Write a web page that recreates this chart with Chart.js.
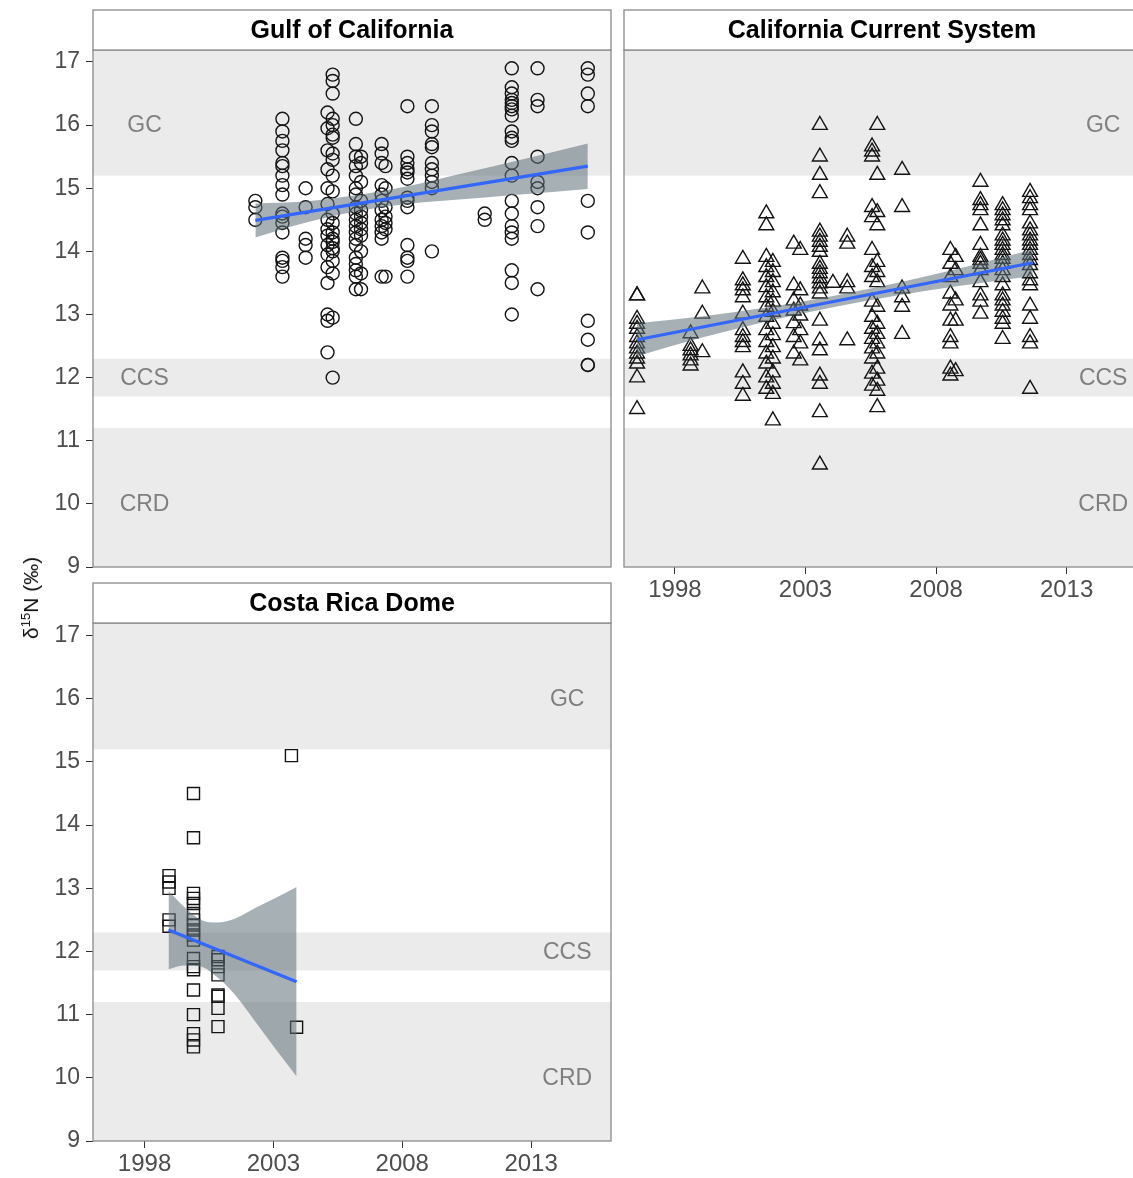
<!DOCTYPE html>
<html>
<head>
<meta charset="utf-8">
<script src="https://cdn.jsdelivr.net/npm/chart.js@4.4.1/dist/chart.umd.min.js"></script>
<style>
html,body{margin:0;padding:0;background:#fff;width:1133px;height:1178px;overflow:hidden;position:relative;}
canvas{position:absolute;left:0;top:0;}
#ylab{position:absolute;left:31px;top:598px;transform:translate(-50%,-50%) rotate(-90deg);white-space:nowrap;
  font-family:"Liberation Sans",Arial,sans-serif;font-size:21px;color:#111;}
#ylab sup{font-size:13px;vertical-align:8px;line-height:0;}
</style>
</head>
<body>
<canvas id="c1" width="1160" height="1178"></canvas>
<canvas id="c2" width="1160" height="1178"></canvas>
<canvas id="c3" width="1160" height="1178"></canvas>
<div id="ylab">δ<sup>15</sup>N (‰)</div>
<script>
// ---------- shared axis / zone data ----------
const yTicks = [9, 10, 11, 12, 13, 14, 15, 16, 17];
const xTicks = [1998, 2003, 2008, 2013];
const zoneNames = ['GC', 'CCS', 'CRD'];
const zoneLow = [15.2, 11.7, -Infinity];
const zoneHigh = [Infinity, 12.3, 11.2];
const zoneLabelY = [16, 12, 10];

// ---------- Gulf of California (circles) ----------
const gcYears = [2002.3, 2003.35, 2004.25, 2005.1, 2005.3, 2006.2, 2006.4, 2007.2, 2007.35, 2008.2, 2009.15, 2011.2, 2012.25, 2013.25, 2015.2];
const gcValues = [
  [14.8, 14.7, 14.5],
  [16.1, 15.9, 15.75, 15.6, 15.4, 15.35, 15.2, 15.05, 14.9, 14.6, 14.55, 14.45, 14.3, 13.9, 13.85, 13.75, 13.6],
  [15.0, 14.7, 14.2, 14.1, 13.9],
  [16.2, 15.95, 15.6, 15.3, 15.0, 14.75, 14.5, 14.35, 14.25, 14.1, 13.95, 13.75, 13.5, 13.0, 12.9, 12.4],
  [16.8, 16.7, 16.5, 16.1, 16.0, 15.85, 15.8, 15.55, 15.45, 15.2, 14.95, 14.6, 14.45, 14.3, 14.2, 14.15, 14.05, 14.0, 13.85, 13.65, 12.95, 12.0],
  [16.1, 15.7, 15.5, 15.35, 15.2, 15.0, 14.9, 14.7, 14.6, 14.5, 14.4, 14.3, 14.2, 14.1, 13.9, 13.8, 13.7, 13.6, 13.4],
  [15.5, 15.4, 15.1, 14.8, 14.65, 14.55, 14.45, 14.35, 14.25, 14.0, 13.65, 13.4],
  [15.7, 15.55, 15.4, 15.05, 14.9, 14.8, 14.65, 14.5, 14.4, 14.3, 14.2, 13.6],
  [15.35, 15.0, 14.7, 14.55, 14.45, 14.35, 13.6],
  [16.3, 15.5, 15.4, 15.3, 15.25, 15.15, 14.85, 14.8, 14.7, 14.1, 13.9, 13.85, 13.6],
  [16.3, 16.0, 15.9, 15.7, 15.65, 15.4, 15.3, 15.2, 15.1, 15.0, 14.0],
  [14.6, 14.5],
  [16.9, 16.6, 16.5, 16.4, 16.35, 16.3, 16.25, 16.15, 15.9, 15.8, 15.75, 15.4, 15.2, 14.8, 14.6, 14.4, 14.3, 14.2, 13.7, 13.5, 13.0],
  [16.9, 16.4, 16.3, 15.5, 15.1, 15.0, 14.7, 14.4, 13.4],
  [16.9, 16.8, 16.5, 16.3, 14.8, 14.3, 12.9, 12.6, 12.2, 12.2]
];
const gcFitX = [2002.3, 2015.2];
const gcFitY = [14.49, 15.35];
const gcBandX = [2002.3, 2004.2, 2006.2, 2008.2, 2010.2, 2012.2, 2015.2];
const gcBandLow = [14.22, 14.45, 14.63, 14.75, 14.82, 14.89, 14.99];
const gcBandHigh = [14.76, 14.79, 14.89, 15.03, 15.22, 15.41, 15.71];

// ---------- California Current System (triangles) ----------
const ccsYears = [1996.55, 1998.6, 1999.05, 2000.6, 2001.5, 2001.75, 2002.55, 2002.8, 2003.55, 2004.05, 2004.6, 2005.55, 2005.75, 2006.7, 2008.55, 2008.75, 2009.7, 2010.55, 2011.6];
const ccsValues = [
  [13.3, 13.3, 12.93, 12.85, 12.77, 12.64, 12.54, 12.46, 12.38, 12.3, 12.22, 12.0, 11.5],
  [12.7, 12.5, 12.43, 12.35, 12.27, 12.19],
  [13.41, 13.01, 12.4],
  [13.88, 13.54, 13.46, 13.38, 13.27, 13.01, 12.75, 12.64, 12.56, 12.48, 12.08, 11.9, 11.71],
  [14.6, 14.41, 13.91, 13.75, 13.59, 13.43, 13.27, 13.12, 12.96, 12.75, 12.56, 12.38, 12.22, 12.0, 11.82],
  [13.83, 13.67, 13.51, 13.35, 13.2, 13.04, 12.85, 12.67, 12.48, 12.3, 12.08, 11.9, 11.74, 11.32],
  [14.12, 13.46, 13.22, 13.06, 12.86, 12.64, 12.38],
  [14.02, 13.38, 13.14, 12.98, 12.75, 12.54, 12.27],
  [16.0, 15.5, 15.21, 14.92, 14.31, 14.23, 14.15, 14.07, 13.99, 13.8, 13.72, 13.65, 13.57, 13.49, 13.41, 13.33, 12.9, 12.59, 12.43, 12.03, 11.9, 11.45, 10.62],
  [13.5],
  [14.23, 14.12, 13.51, 13.41, 12.59],
  [15.66, 15.58, 15.5, 14.7, 14.54, 14.02, 13.75, 13.59, 13.2, 12.96, 12.77, 12.61, 12.46, 12.3, 12.06, 11.87],
  [16.0, 15.21, 14.62, 14.41, 13.83, 13.67, 13.51, 13.12, 12.85, 12.69, 12.54, 12.38, 12.14, 11.95, 11.79, 11.53],
  [15.29, 14.7, 13.41, 13.27, 13.12, 12.69],
  [14.02, 13.8, 13.59, 13.33, 13.14, 12.9, 12.64, 12.54, 12.14, 12.03],
  [13.91, 13.7, 13.22, 12.9, 12.1],
  [15.1, 14.81, 14.73, 14.65, 14.41, 14.1, 13.91, 13.86, 13.8, 13.7, 13.51, 13.3, 13.2, 13.01],
  [14.73, 14.65, 14.57, 14.49, 14.41, 14.25, 14.17, 14.1, 14.02, 13.94, 13.88, 13.8, 13.7, 13.59, 13.46, 13.3, 13.22, 13.14, 13.04, 12.93, 12.85, 12.61],
  [14.94, 14.84, 14.73, 14.65, 14.44, 14.33, 14.25, 14.17, 14.1, 14.02, 13.94, 13.86, 13.78, 13.65, 13.54, 13.46, 13.14, 12.93, 12.64, 12.54, 11.82]
];
const ccsFitX = [1996.55, 2011.7];
const ccsFitY = [12.6, 13.82];
const ccsBandX = [1996.55, 1999, 2001.5, 2004, 2006.5, 2009, 2011.7];
const ccsBandLow = [12.34, 12.63, 12.89, 13.11, 13.3, 13.46, 13.61];
const ccsBandHigh = [12.86, 12.97, 13.11, 13.29, 13.5, 13.74, 14.03];

// ---------- Costa Rica Dome (squares) ----------
const crdYears = [1998.95, 1999.9, 2000.85, 2003.7, 2003.9];
const crdValues = [
  [13.2, 13.1, 13.0, 12.5, 12.4],
  [14.5, 13.8, 12.92, 12.84, 12.76, 12.6, 12.5, 12.42, 12.34, 12.26, 12.18, 11.89, 11.76, 11.71, 11.39, 11.0, 10.7, 10.6, 10.49],
  [11.92, 11.87, 11.76, 11.63, 11.31, 11.29, 11.1, 10.81],
  [15.1],
  [10.8]
];
const crdFitX = [1998.93, 2003.9];
const crdFitY = [12.34, 11.52];
const crdBandX = [1998.93, 1999.5, 2000.2, 2000.8, 2001.5, 2002.35, 2003.1, 2003.9];
const crdBandLow = [11.72, 11.78, 11.76, 11.6, 11.32, 10.86, 10.45, 10.02];
const crdBandHigh = [12.96, 12.72, 12.5, 12.46, 12.52, 12.7, 12.85, 13.02];

// ---------- helpers ----------
const FONT = '"Liberation Sans", Arial, Helvetica, sans-serif';
function toPoints(years, values) {
  const out = [];
  years.forEach((yr, i) => values[i].forEach(v => out.push({ x: yr, y: v })));
  return out;
}
function pairs(xs, ys) { return xs.map((x, i) => ({ x: x, y: ys[i] })); }

function facetPlugin(title, labelX) {
  return {
    id: 'facet',
    beforeDatasetsDraw(chart) {
      const { ctx, chartArea: a, scales: { x, y } } = chart;
      ctx.save();
      ctx.beginPath();
      ctx.rect(a.left, a.top, a.right - a.left, a.bottom - a.top);
      ctx.clip();
      ctx.fillStyle = '#EBEBEB';
      zoneNames.forEach((n, i) => {
        const hi = Math.min(zoneHigh[i], y.max), lo = Math.max(zoneLow[i], y.min);
        const yt = y.getPixelForValue(hi), yb = y.getPixelForValue(lo);
        ctx.fillRect(a.left, yt, a.right - a.left, yb - yt);
      });
      ctx.fillStyle = '#7F7F7F';
      ctx.font = '23px ' + FONT;
      ctx.textAlign = 'center';
      ctx.textBaseline = 'middle';
      zoneNames.forEach((n, i) => {
        ctx.fillText(n, x.getPixelForValue(labelX), y.getPixelForValue(zoneLabelY[i]) + 1);
      });
      ctx.restore();
    },
    afterDraw(chart) {
      const { ctx, chartArea: a } = chart;
      ctx.save();
      ctx.strokeStyle = '#8A8A8A';
      ctx.lineWidth = 1.3;
      ctx.strokeRect(a.left, a.top, a.right - a.left, a.bottom - a.top);
      const sh = 40;
      ctx.fillStyle = '#FFFFFF';
      ctx.fillRect(a.left, a.top - sh, a.right - a.left, sh);
      ctx.strokeRect(a.left, a.top - sh, a.right - a.left, sh);
      ctx.fillStyle = '#000';
      ctx.font = 'bold 25px ' + FONT;
      ctx.textAlign = 'center';
      ctx.textBaseline = 'middle';
      ctx.fillText(title, (a.left + a.right) / 2, a.top - sh / 2 + 1);
      ctx.restore();
    }
  };
}

function makeChart(id, cfg) {
  const ctx = document.getElementById(id);
  return new Chart(ctx, {
    type: 'scatter',
    data: {
      datasets: [
        { type: 'line', data: pairs(cfg.fitX, cfg.fitY), borderColor: '#3366FF', borderWidth: 3.2,
          pointRadius: 0, fill: false, order: 0 },
        { type: 'line', data: pairs(cfg.bandX, cfg.bandLow), borderWidth: 0, borderColor: 'rgba(0,0,0,0)',
          pointRadius: 0, fill: false, cubicInterpolationMode: 'monotone', order: 1 },
        { type: 'line', data: pairs(cfg.bandX, cfg.bandHigh), borderWidth: 0, borderColor: 'rgba(0,0,0,0)',
          pointRadius: 0, fill: '-1', backgroundColor: 'rgba(95,112,120,0.55)', cubicInterpolationMode: 'monotone', order: 1 },
        { data: cfg.points, pointStyle: cfg.style, pointRadius: cfg.radius, pointBorderColor: '#141414',
          pointBorderWidth: 1.4, pointBackgroundColor: 'rgba(0,0,0,0)', order: 2 }
      ]
    },
    options: {
      responsive: false,
      animation: false,
      events: [],
      layout: { padding: cfg.padding },
      plugins: { legend: { display: false }, tooltip: { enabled: false } },
      scales: {
        x: {
          type: 'linear', min: cfg.xMin, max: cfg.xMax, display: cfg.showX,
          afterBuildTicks: s => { s.ticks = xTicks.map(v => ({ value: v })); },
          afterFit: s => { if (cfg.showX) s.height = 40; },
          grid: { display: true, drawOnChartArea: false, drawTicks: true, tickLength: 7, color: '#333' },
          border: { display: false },
          ticks: { autoSkip: false, maxRotation: 0, padding: 2, color: '#4D4D4D',
                   font: { family: FONT, size: 24 }, callback: v => String(v) }
        },
        y: {
          type: 'linear', min: cfg.yMin, max: cfg.yMax, display: cfg.showY,
          afterBuildTicks: s => { s.ticks = yTicks.map(v => ({ value: v })); },
          afterFit: s => { if (cfg.showY) s.width = 93; },
          grid: { display: true, drawOnChartArea: false, drawTicks: true, tickLength: 7, color: '#333' },
          border: { display: false },
          ticks: { autoSkip: false, padding: 6, color: '#4D4D4D',
                   font: { family: FONT, size: 23 }, callback: v => String(v) }
        }
      }
    },
    plugins: [facetPlugin(cfg.title, cfg.labelX)]
  });
}

makeChart('c1', {
  title: 'Gulf of California', labelX: 1998,
  points: toPoints(gcYears, gcValues), style: 'circle', radius: 6.5,
  fitX: gcFitX, fitY: gcFitY, bandX: gcBandX, bandLow: gcBandLow, bandHigh: gcBandHigh,
  xMin: 1996.0, xMax: 2016.1, yMin: 9, yMax: 17.19, showX: false, showY: true,
  padding: { left: 0, top: 50, right: 1160 - 611, bottom: 1178 - 567 }
});
makeChart('c2', {
  title: 'California Current System', labelX: 2014.4,
  points: toPoints(ccsYears, ccsValues), style: 'triangle', radius: 8.6,
  fitX: ccsFitX, fitY: ccsFitY, bandX: ccsBandX, bandLow: ccsBandLow, bandHigh: ccsBandHigh,
  xMin: 1996.05, xMax: 2015.81, yMin: 9, yMax: 17.19, showX: true, showY: false,
  padding: { left: 624, top: 50, right: 1160 - 1140, bottom: 1178 - 567 - 40 }
});
makeChart('c3', {
  title: 'Costa Rica Dome', labelX: 2014.4,
  points: toPoints(crdYears, crdValues), style: 'rect', radius: 8.5,
  fitX: crdFitX, fitY: crdFitY, bandX: crdBandX, bandLow: crdBandLow, bandHigh: crdBandHigh,
  xMin: 1996.0, xMax: 2016.1, yMin: 9, yMax: 17.2, showX: true, showY: true,
  padding: { left: 0, top: 623, right: 1160 - 611, bottom: 1178 - 1141 - 40 }
});
</script>
</body>
</html>
